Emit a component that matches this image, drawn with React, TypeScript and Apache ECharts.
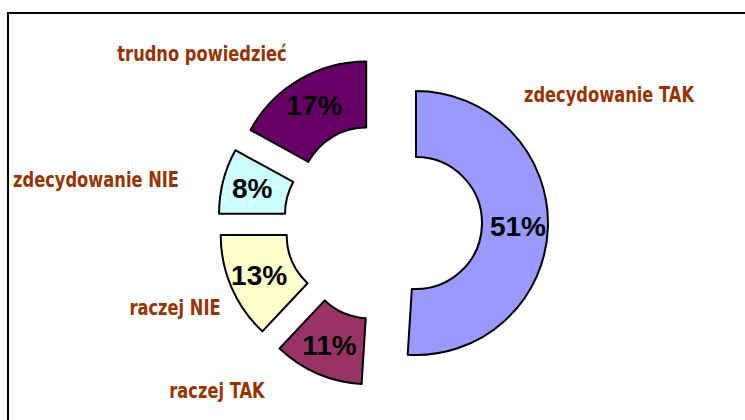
import React, { useEffect, useRef } from "react";
import * as echarts from "echarts";

const categories = ["zdecydowanie TAK", "raczej TAK", "raczej NIE", "zdecydowanie NIE", "trudno powiedzieć"];
const values = [51, 11, 13, 8, 17];
const colors = ["#9999FF", "#993366", "#FFFFCC", "#CCFFFF", "#660066"];
// label anchor positions (centre of each category label)
const labelPos: [number, number][] = [
  [609, 95],
  [217, 391],
  [175, 308],
  [96, 180],
  [202, 54],
];

export default function App() {
  const ref = useRef<HTMLDivElement>(null);
  useEffect(() => {
    if (!ref.current) return;
    const chart = echarts.init(ref.current, null, { renderer: "svg" });
    const labelFont = "'DejaVu Sans', sans-serif";
    chart.setOption({
      animation: false,
      backgroundColor: "#ffffff",
      graphic: [
        {
          type: "rect",
          x: 8,
          y: 13,
          shape: { x: 0, y: 0, width: 800, height: 500 },
          style: { fill: "none", stroke: "#000", lineWidth: 2 },
          silent: true,
        },
        ...categories.map((c, i) => ({
          type: "text",
          x: labelPos[i][0],
          y: labelPos[i][1],
          scaleX: 0.74,
          style: {
            text: c,
            fill: "#993300",
            font: `bold 22px ${labelFont}`,
            align: "center",
            verticalAlign: "middle",
          },
          silent: true,
        })),
      ],
      series: [
        {
          type: "pie",
          center: [383, 222],
          radius: [66, 132],
          startAngle: 90,
          clockwise: true,
          selectedMode: "multiple",
          selectedOffset: 33,
          avoidLabelOverlap: false,
          emphasis: { disabled: true },
          itemStyle: { borderColor: "#000", borderWidth: 2 },
          label: {
            show: true,
            position: "inside",
            formatter: (p: any) => `${p.value}%`,
            color: "#000",
            fontFamily: "'Liberation Sans', Arial, sans-serif",
            fontWeight: "bold",
            fontSize: 28,
          },
          labelLine: { show: false },
          data: categories.map((c, i) => ({
            name: c,
            value: values[i],
            selected: true,
            itemStyle: { color: colors[i] },
          })),
        },
      ],
    });
    return () => chart.dispose();
  }, []);
  return (
    <div
      ref={ref}
      style={{ position: "fixed", left: 0, top: 0, width: 745, height: 420 }}
    />
  );
}
